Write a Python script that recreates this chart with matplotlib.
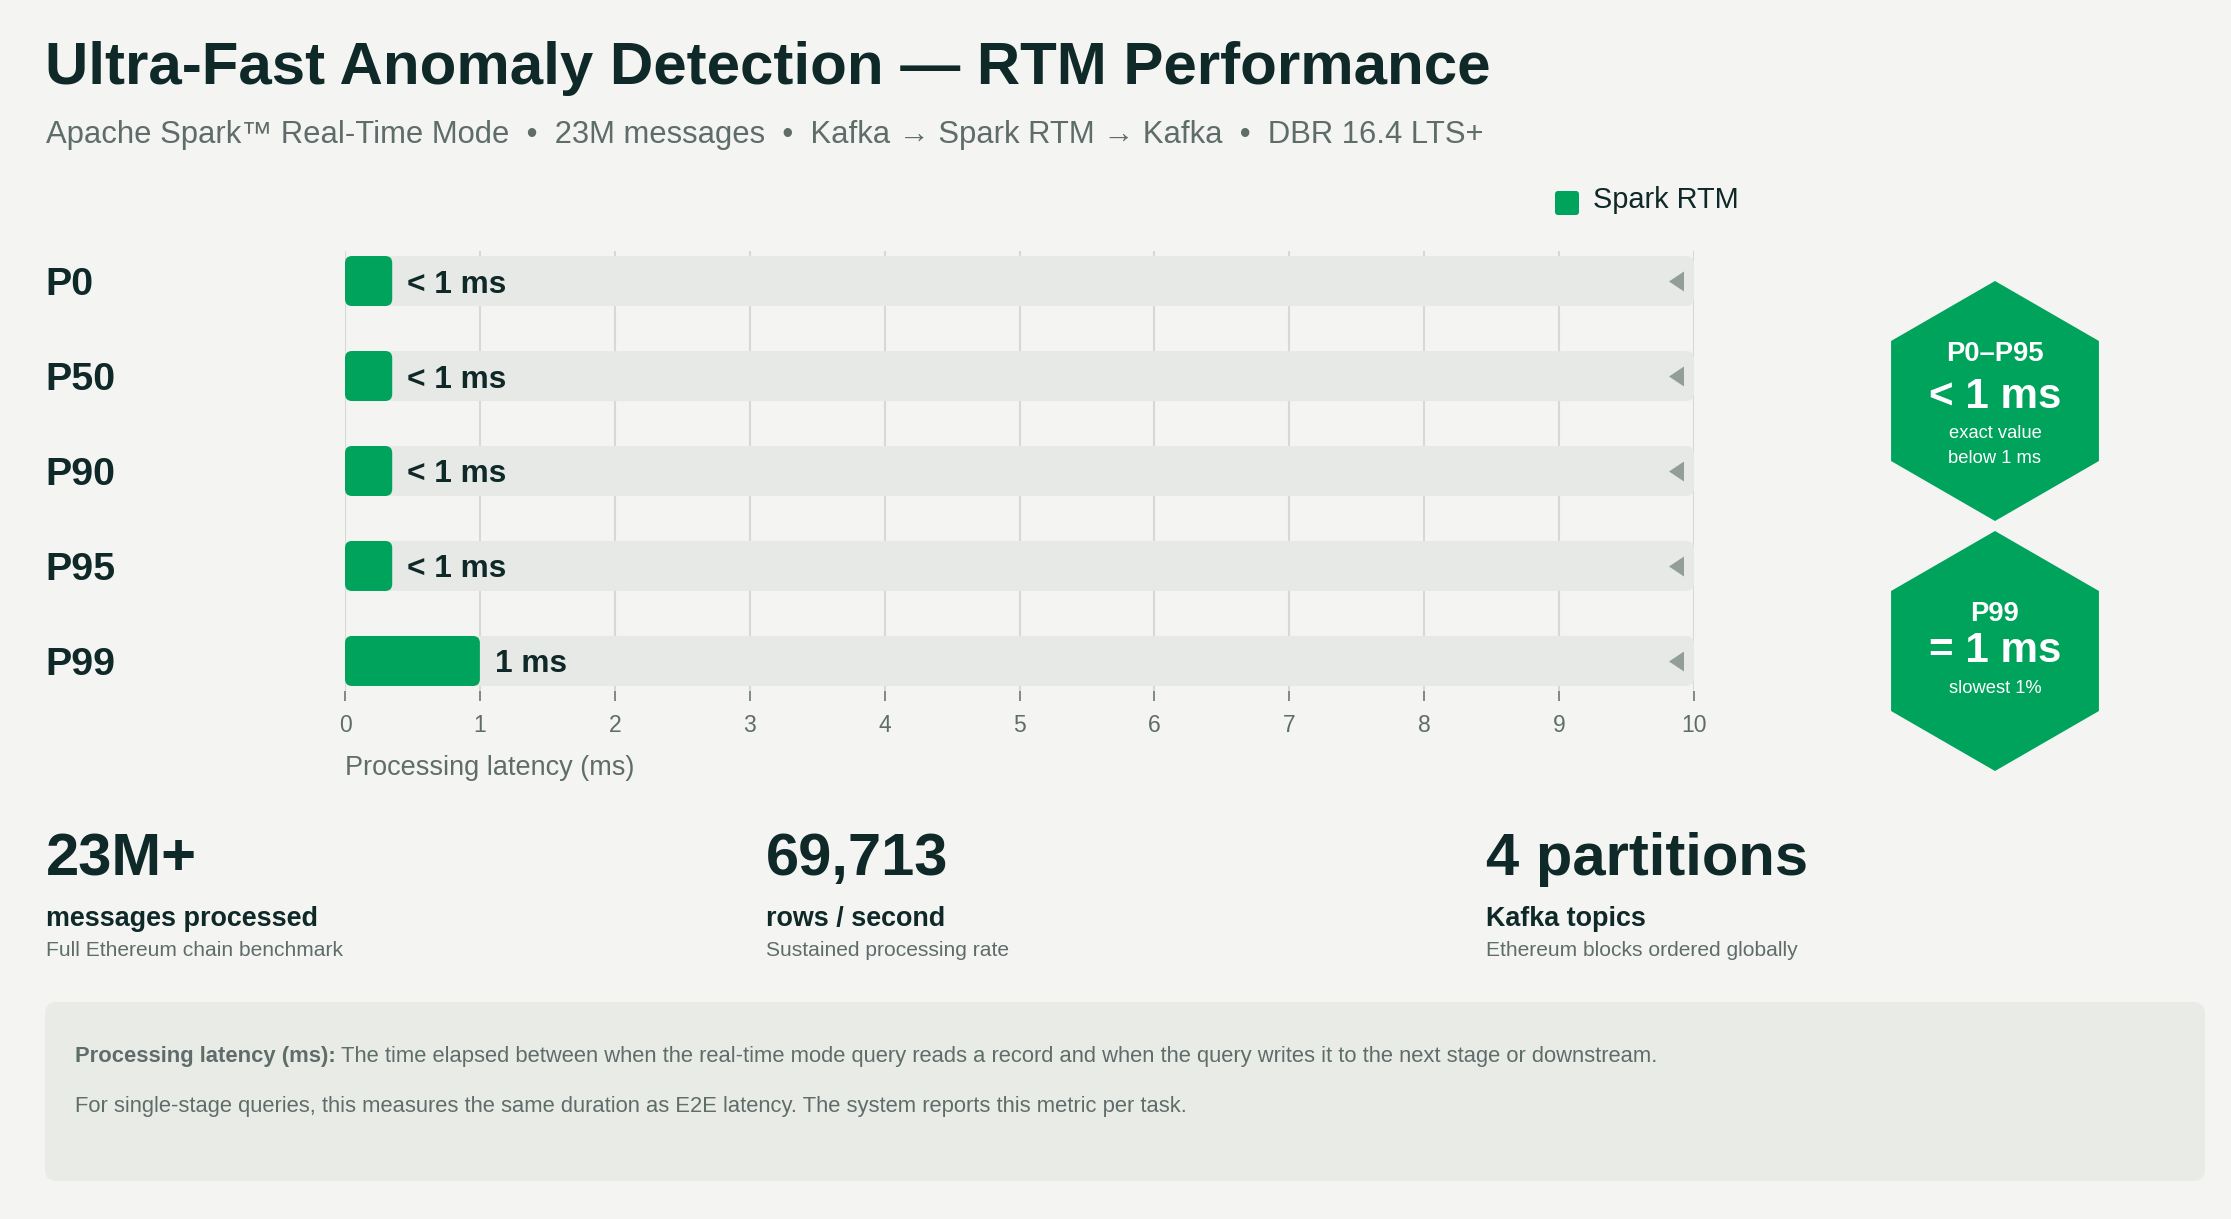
import matplotlib
matplotlib.use('Agg')
import matplotlib.pyplot as plt
from matplotlib.patches import FancyBboxPatch, RegularPolygon

# ---------------- data ----------------
percentiles = ['P0', 'P50', 'P90', 'P95', 'P99']
bar_values = [0.35, 0.35, 0.35, 0.35, 1.0]          # drawn length (ms); "< 1 ms" shown as a short bar
bar_labels = ['< 1 ms', '< 1 ms', '< 1 ms', '< 1 ms', '1 ms']
axis_max = 10
xticks = list(range(0, 11))
xlabel = 'Processing latency (ms)'
legend_label = 'Spark RTM'

title = 'Ultra-Fast Anomaly Detection \u2014 RTM Performance'
subtitle = ('Apache Spark\u2122 Real-Time Mode  \u2022  23M messages  \u2022  '
            'Kafka \u2192 Spark RTM \u2192 Kafka  \u2022  DBR 16.4 LTS+')

hex_heads = ['P0\u2013P95', 'P99']
hex_values = ['< 1 ms', '= 1 ms']
hex_notes = [['exact value', 'below 1 ms'], ['slowest 1%']]

stat_values = ['23M+', '69,713', '4 partitions']
stat_labels = ['messages processed', 'rows / second', 'Kafka topics']
stat_notes = ['Full Ethereum chain benchmark', 'Sustained processing rate',
              'Ethereum blocks ordered globally']

note_bold = 'Processing latency (ms):'
note_line1 = ('The time elapsed between when the real-time mode query reads a record '
              'and when the query writes it to the next stage or downstream.')
note_line2 = ('For single-stage queries, this measures the same duration as E2E latency. '
              'The system reports this metric per task.')

# ---------------- style ----------------
BG = '#f4f4f2'
DARK = '#0f2828'
GREY = '#5f6d6a'
GREEN = '#00a35c'
LIGHT = '#e7e9e6'
GRID = '#d6d9d6'
ARROW = '#939e9a'
BOX = '#e9ebe7'
FONT = ['Liberation Sans', 'DejaVu Sans']
plt.rcParams['font.family'] = FONT

W, H, DPI = 2231, 1219, 100
fig = plt.figure(figsize=(W / DPI, H / DPI), dpi=DPI, facecolor=BG)

# ---------------- main bar axes ----------------
x0_px, x1_px = 345, 1694
top_px, bot_px = 251, 691
n = len(percentiles)
ymargin = 0.316
ax = fig.add_axes([x0_px / W, 1 - bot_px / H, (x1_px - x0_px) / W, (bot_px - top_px) / H])
ax.set_xlim(0, axis_max)
ax.set_ylim(n - 1 + ymargin, -ymargin)
ax.patch.set_visible(False)
for s in ax.spines.values():
    s.set_visible(False)
ax.set_yticks([])
ax.set_xticks(xticks)
ax.set_xticklabels([str(t) for t in xticks], fontsize=16.5, color=GREY)
ax.tick_params(axis='x', length=7.2, width=1.1, color=GREY, pad=9)
for t in xticks:
    ax.axvline(t, color=GRID, lw=1.5, zorder=0)

px_x = (x1_px - x0_px) / axis_max
px_y = (bot_px - top_px) / (n - 1 + 2 * ymargin)
asp = px_x / px_y
bar_h = 50 / px_y

for i, (v, lbl) in enumerate(zip(bar_values, bar_labels)):
    ax.add_patch(FancyBboxPatch((0, i - bar_h / 2), axis_max, bar_h,
                                boxstyle=f'round,pad=0,rounding_size={8 / px_x}',
                                mutation_aspect=asp, fc=LIGHT, ec='none', zorder=1))
    ax.add_patch(FancyBboxPatch((0, i - bar_h / 2), v, bar_h,
                                boxstyle=f'round,pad=0,rounding_size={7 / px_x}',
                                mutation_aspect=asp, fc=GREEN, ec='none', zorder=2))
    ax.annotate(lbl, xy=(v, i), xytext=(15, -11.5), textcoords='offset pixels',
                ha='left', va='baseline', fontsize=22.8, fontweight='bold', color=DARK, zorder=4)
    ax.annotate(percentiles[i], xy=(45, i), xycoords=('figure pixels', 'data'),
                xytext=(0, -14), textcoords='offset pixels', ha='left', va='baseline',
                fontsize=28.4, fontweight='bold', color=DARK, annotation_clip=False)

tri = [(0.75, 1), (-0.75, 0), (0.75, -1)]
ax.plot([axis_max - 0.137] * n, list(range(n)), ls='none', marker=tri, ms=14.4,
        color=ARROW, mec='none', zorder=3)

# ---------------- overlay (pixel coordinates) ----------------
ov = fig.add_axes([0, 0, 1, 1])
ov.set_xlim(0, W)
ov.set_ylim(H, 0)
ov.axis('off')

ov.text(45, 84, title, fontsize=43.2, fontweight='bold', color=DARK, va='baseline', ha='left')
ov.text(46, 143.5, subtitle, fontsize=22.3, color=GREY, va='baseline', ha='left')

# legend
ov.add_patch(FancyBboxPatch((1555, 191), 24, 24, boxstyle='round,pad=0,rounding_size=3',
                            fc=GREEN, ec='none'))
ov.text(1593, 208, legend_label, fontsize=20.8, color=DARK, va='baseline', ha='left')

# x label
ov.text(345, 775, xlabel, fontsize=19.5, color=GREY, va='baseline', ha='left')

# hexagons
hex_cy = [401, 651]
for k in range(2):
    cy = hex_cy[k]
    ov.add_patch(RegularPolygon((1995, cy), numVertices=6, radius=120, orientation=0,
                                fc=GREEN, ec='none'))
    if k == 0:
        ov.text(1995, cy - 40, hex_heads[k], fontsize=19.7, fontweight='bold', color='white',
                ha='center', va='baseline')
        ov.text(1995, cy + 7, hex_values[k], fontsize=30.3, fontweight='bold', color='white',
                ha='center', va='baseline')
        ov.text(1995, cy + 37, hex_notes[k][0], fontsize=13.2, color='white', ha='center', va='baseline')
        ov.text(1995, cy + 62, hex_notes[k][1], fontsize=13.2, color='white', ha='center', va='baseline')
    else:
        ov.text(1995, cy - 30, hex_heads[k], fontsize=19.7, fontweight='bold', color='white',
                ha='center', va='baseline')
        ov.text(1995, cy + 11, hex_values[k], fontsize=30.3, fontweight='bold', color='white',
                ha='center', va='baseline')
        ov.text(1995, cy + 42, hex_notes[k][0], fontsize=13.2, color='white', ha='center', va='baseline')

# stats
stat_x = [46, 766, 1486]
for sx, sv, sl, sn in zip(stat_x, stat_values, stat_labels, stat_notes):
    ov.text(sx, 875, sv, fontsize=43, fontweight='bold', color=DARK, va='baseline', ha='left')
    ov.text(sx, 926, sl, fontsize=19.4, fontweight='bold', color=DARK, va='baseline', ha='left')
    ov.text(sx, 956, sn, fontsize=15.1, color=GREY, va='baseline', ha='left')

# footnote box
ov.add_patch(FancyBboxPatch((45, 1002), 2160, 179, boxstyle='round,pad=0,rounding_size=12',
                            fc=BOX, ec='none'))
t1 = ov.text(75, 1062, note_bold, fontsize=15.8, fontweight='bold', color=GREY,
             va='baseline', ha='left')
fig.canvas.draw()
bb = t1.get_window_extent()
ov.text(bb.x1 + 5, 1062, note_line1, fontsize=15.8, color=GREY, va='baseline', ha='left')
ov.text(75, 1112, note_line2, fontsize=15.8, color=GREY, va='baseline', ha='left')

fig.savefig('out.png', dpi=DPI, facecolor=BG)
